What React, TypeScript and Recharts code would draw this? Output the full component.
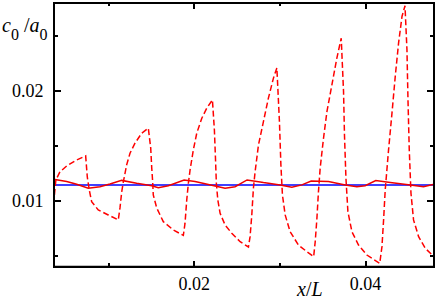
import React from 'react';
import { LineChart, Line, XAxis, YAxis } from 'recharts';

// dashed red sawtooth (x/L, c0/a0)
const dashX = [
  0.00365, 0.00382, 0.00429, 0.00508, 0.00625, 0.0073,
  0.00749, 0.00772, 0.008, 0.00877, 0.00994, 0.01111,
  0.01131, 0.01151, 0.0117, 0.01209, 0.01248, 0.01306, 0.01385, 0.01462,
  0.0149, 0.01502, 0.01513, 0.0152, 0.0156, 0.01637, 0.01754, 0.01871,
  0.01891, 0.01911, 0.0193, 0.0195, 0.01988, 0.02028, 0.02087, 0.02145, 0.02211,
  0.02234, 0.02246, 0.02257, 0.02274, 0.02301, 0.02359, 0.02437, 0.02535, 0.02632,
  0.02651, 0.02671, 0.0269, 0.0271, 0.02749, 0.02807, 0.02865, 0.02924, 0.02964,
  0.02994, 0.03011, 0.03029, 0.03061, 0.03119, 0.03216, 0.03315, 0.03394,
  0.03412, 0.03432, 0.0345, 0.0347, 0.03509, 0.03549, 0.03607, 0.03665, 0.03716,
  0.03743, 0.03754, 0.03771, 0.03794, 0.03841, 0.03918, 0.04016, 0.04166,
  0.04192, 0.04211, 0.0423, 0.04269, 0.04309, 0.04347, 0.04386, 0.04426, 0.04461,
  0.04484, 0.04496, 0.04511, 0.04531, 0.04561, 0.0462, 0.04698, 0.04803,
];
const dashY = [
  0.01052, 0.01188, 0.01261, 0.01315, 0.0137, 0.01406,
  0.01215, 0.01097, 0.00991, 0.00915, 0.0087, 0.00825,
  0.00934, 0.01079, 0.0117, 0.01325, 0.01431, 0.01522, 0.01613, 0.01658,
  0.01479, 0.01297, 0.0117, 0.01052, 0.00934, 0.00809, 0.00734, 0.00684,
  0.00795, 0.01006, 0.01158, 0.01279, 0.01461, 0.01613, 0.01749, 0.0184, 0.01915,
  0.01643, 0.014, 0.01158, 0.01006, 0.00885, 0.00779, 0.00704, 0.00627, 0.00579,
  0.00673, 0.0087, 0.01113, 0.01264, 0.01506, 0.01718, 0.01931, 0.02113, 0.02206,
  0.01718, 0.01325, 0.01052, 0.0087, 0.00718, 0.00597, 0.00536, 0.00491,
  0.00627, 0.0084, 0.01082, 0.01295, 0.01567, 0.01809, 0.02052, 0.02295, 0.02476,
  0.01991, 0.01597, 0.01204, 0.009, 0.00718, 0.00597, 0.00506, 0.00431,
  0.00582, 0.00825, 0.01097, 0.01461, 0.01795, 0.02127, 0.02431, 0.02673, 0.0277,
  0.0237, 0.01915, 0.01461, 0.01067, 0.00825, 0.00673, 0.00567, 0.00488,
];

// solid red, small wiggle
const solidX = [
  0.00371, 0.00508, 0.00625, 0.0076, 0.00897, 0.01014, 0.01151, 0.01326,
  0.01502, 0.01579, 0.01696, 0.0188, 0.02008, 0.02242, 0.02359, 0.02476,
  0.02616, 0.02807, 0.03002, 0.03139, 0.03256, 0.03365, 0.03567, 0.03763,
  0.03899, 0.03996, 0.04119, 0.04289, 0.04523, 0.04678, 0.04803,
];
const solidY = [
  0.01193, 0.01173, 0.01149, 0.01113, 0.01127, 0.01152, 0.01184, 0.01158,
  0.01136, 0.01118, 0.01136, 0.01188, 0.01173, 0.01134, 0.01113, 0.01127,
  0.01188, 0.01164, 0.01143, 0.01122, 0.01143, 0.01179, 0.01173, 0.01143,
  0.01127, 0.01136, 0.01182, 0.01164, 0.01143, 0.01127, 0.01149,
];

// flat blue
const flatX = [0.0036, 0.048];
const flatY = [0.01143, 0.01143];

const xLabelTicks = [0.02, 0.04];
const xMinorTicks = [0.01, 0.03];
const yLabelTicks = [0.01, 0.02];
const yMinorTicks = [0.005, 0.015, 0.025];

const X_DOMAIN: [number, number] = [0.0036, 0.048];
const Y_DOMAIN: [number, number] = [0.004, 0.028];

// plot box, must agree with the chart margins / axis sizes below
const LEFT = 54;
const TOP = 2.5;
const PLOT_W = 380;
const PLOT_H = 264.2;
const RIGHT = LEFT + PLOT_W;
const BOTTOM = TOP + PLOT_H;
const px = (v: number) => LEFT + ((v - X_DOMAIN[0]) / (X_DOMAIN[1] - X_DOMAIN[0])) * PLOT_W;
const py = (v: number) => BOTTOM - ((v - Y_DOMAIN[0]) / (Y_DOMAIN[1] - Y_DOMAIN[0])) * PLOT_H;

const toPoints = (xs: number[], ys: number[]) => xs.map((x, i) => ({ x, y: ys[i] }));

const dashData = toPoints(dashX, dashY);
const solidData = toPoints(solidX, solidY);
const flatData = toPoints(flatX, flatY);

const FONT = '"Liberation Serif", serif';
const INK = '#000';
const LW = 2;
const textStyle = { fontFamily: FONT };

const BottomTick = (props: any) => (
  <text x={props.x} y={props.y} dy="0.71em" textAnchor="middle" style={textStyle} fontSize={18} fill={INK}>
    {props.payload.value}
  </text>
);
const LeftTick = (props: any) => (
  <text x={props.x} y={props.y} dy="0.355em" textAnchor="end" style={textStyle} fontSize={18} fill={INK}>
    {props.payload.value}
  </text>
);

const xTickMarks = [
  ...xLabelTicks.map((v) => ({ v, len: 6 })),
  ...xMinorTicks.map((v) => ({ v, len: 3.5 })),
];
const yTickMarks = [
  ...yLabelTicks.map((v) => ({ v, len: 7 })),
  ...yMinorTicks.map((v) => ({ v, len: 4 })),
];

// plain black HTML box, used for the frame and the inward ticks
const Bar = ({ x, y, w, h }: { x: number; y: number; w: number; h: number }) => (
  <div style={{ position: 'absolute', left: x, top: y, width: w, height: h, background: INK }} />
);

const App = () => {
  const h = LW / 2;
  return (
    <div style={{ position: 'absolute', left: 0, top: 0, width: 436, height: 299, fontFamily: FONT }}>
      <div style={{ position: 'absolute', left: 0, top: 0 }}>
        <LineChart width={436} height={299} margin={{ top: TOP, right: 436 - RIGHT, bottom: 0, left: 0 }}>
          <XAxis
            xAxisId="x"
            dataKey="x"
            type="number"
            domain={X_DOMAIN}
            allowDataOverflow
            ticks={xLabelTicks}
            interval={0}
            height={299 - BOTTOM}
            stroke={INK}
            axisLine={{ stroke: INK, strokeWidth: LW }}
            tickLine={false}
            tickSize={6}
            tickMargin={5}
            tick={BottomTick}
          />
          <YAxis
            yAxisId="y"
            dataKey="y"
            type="number"
            domain={Y_DOMAIN}
            allowDataOverflow
            ticks={yLabelTicks}
            interval={0}
            width={LEFT}
            stroke={INK}
            axisLine={{ stroke: INK, strokeWidth: LW }}
            tickLine={false}
            tickSize={6}
            tickMargin={4.5}
            tick={LeftTick}
          />

          <Line xAxisId="x" yAxisId="y" data={flatData} dataKey="y" type="linear"
            stroke="#0000ff" strokeWidth={1.5} dot={false} isAnimationActive={false} />
          <Line xAxisId="x" yAxisId="y" data={solidData} dataKey="y" type="linear"
            stroke="#ee0000" strokeWidth={1.5} dot={false} isAnimationActive={false} />
          <Line xAxisId="x" yAxisId="y" data={dashData} dataKey="y" type="linear"
            stroke="#ff0000" strokeWidth={1.5} strokeDasharray="6 3" dot={false} isAnimationActive={false} />
        </LineChart>
      </div>

      {/* closed frame and inward ticks as HTML boxes on top of the chart */}
      <div style={{ position: 'absolute', left: 0, top: 0, width: 436, height: 299, zIndex: 10, pointerEvents: 'none' }}>
        <Bar x={LEFT - h} y={TOP - h} w={PLOT_W + LW} h={LW} />
        <Bar x={LEFT - h} y={BOTTOM - h} w={PLOT_W + LW} h={LW} />
        <Bar x={LEFT - h} y={TOP - h} w={LW} h={PLOT_H + LW} />
        <Bar x={RIGHT - h} y={TOP - h} w={LW} h={PLOT_H + LW} />
        {xTickMarks.map(({ v, len }) => (
          <React.Fragment key={`x${v}`}>
            <Bar x={px(v) - h} y={BOTTOM - len} w={LW} h={len} />
            <Bar x={px(v) - h} y={TOP} w={LW} h={len} />
          </React.Fragment>
        ))}
        {yTickMarks.map(({ v, len }) => (
          <React.Fragment key={`y${v}`}>
            <Bar x={LEFT} y={py(v) - h} w={len} h={LW} />
            <Bar x={RIGHT - len} y={py(v) - h} w={len} h={LW} />
          </React.Fragment>
        ))}
      </div>

      {/* axis titles */}
      <svg width={436} height={299} style={{ position: 'absolute', left: 0, top: 0, zIndex: 11, pointerEvents: 'none' }}>
        <text x={2} y={32} style={textStyle} fontSize={20} fill={INK}>
          <tspan fontStyle="italic">c</tspan>
          <tspan fontSize={16} dy={8}>0</tspan>
          <tspan dy={-8}> /</tspan>
          <tspan fontStyle="italic">a</tspan>
          <tspan fontSize={16} dy={8}>0</tspan>
        </text>
        <text x={297} y={296} style={textStyle} fontSize={20} fill={INK}>
          <tspan fontStyle="italic">x</tspan>
          <tspan>/</tspan>
          <tspan fontStyle="italic">L</tspan>
        </text>
      </svg>
    </div>
  );
};

export default App;
